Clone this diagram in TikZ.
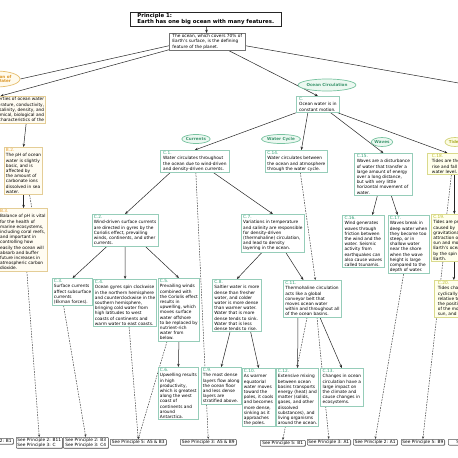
\documentclass[tikz,border=0pt]{standalone}
\usepackage{fontspec}
\setmainfont{DejaVu Sans}
\usetikzlibrary{shapes.geometric,arrows.meta,calc,backgrounds,shadows}
\definecolor{cBd}{RGB}{150,205,185}
\definecolor{cLab}{RGB}{55,160,120}
\definecolor{bBd}{RGB}{228,205,150}
\definecolor{bFill}{RGB}{255,252,242}
\definecolor{bLab}{RGB}{230,160,50}
\definecolor{tBd}{RGB}{218,218,140}
\definecolor{tFill}{RGB}{255,255,236}
\definecolor{tLab}{RGB}{185,185,40}
\definecolor{eBd}{RGB}{120,195,160}
\definecolor{eFill}{RGB}{236,248,241}
\definecolor{eTxt}{RGB}{60,150,110}
\definecolor{pBd}{RGB}{230,190,110}
\definecolor{pFill}{RGB}{255,250,236}
\definecolor{pTxt}{RGB}{220,150,40}
\definecolor{tiBd}{RGB}{210,210,120}
\definecolor{tiFill}{RGB}{252,252,226}
\definecolor{tiTxt}{RGB}{175,175,50}
\newcommand\clab[1]{\textcolor{cLab}{#1}}
\newcommand\blab[1]{\textcolor{bLab}{#1}}
\newcommand\tlab[1]{\textcolor{tLab}{#1}}
\begin{document}
\begin{tikzpicture}[x=1pt,y=-1pt,
  every node/.style={font=\fontsize{4.3}{5.2}\selectfont},
  box/.style={anchor=north west, align=left, inner xsep=1.6pt, inner ysep=1.2pt, line width=0.7pt},
  cbox/.style={box, draw=cBd, fill=white},
  bbx/.style={box, draw=bBd, fill=bFill},
  tbx/.style={box, draw=tBd, fill=tFill},
  tit/.style={box, draw=black!85, fill=white, line width=0.6pt, font=\fontsize{5.4}{6.2}\selectfont\bfseries,
    drop shadow={shadow xshift=0.8pt, shadow yshift=-0.8pt, fill=black!40, opacity=1}},
  obx/.style={box, draw=black!55, fill=white, line width=0.5pt,
    drop shadow={shadow xshift=0.7pt, shadow yshift=-0.7pt, fill=black!35, opacity=1}},
  seebox/.style={anchor=north west, align=left, draw=black!65, fill=white, rounded corners=0.8pt,
    line width=0.5pt, inner xsep=1.2pt, inner ysep=0.8pt,
    drop shadow={shadow xshift=0.6pt, shadow yshift=-0.6pt, fill=black!45, opacity=1}},
  ell/.style={ellipse, inner sep=0pt, line width=0.7pt, draw=eBd, fill=eFill, text=eTxt,
    font=\fontsize{4.1}{4.8}\selectfont\bfseries, align=center},
  ellp/.style={ell, draw=pBd, fill=pFill, text=pTxt},
  ellt/.style={ell, draw=tiBd, fill=tiFill, text=tiTxt},
  ln/.style={draw=black!85, line width=0.5pt},
  arr/.style={ln, -{Stealth[length=3.2pt,width=2.6pt]}},
  dsh/.style={draw=black!75, line width=0.5pt, dash pattern=on 1.6pt off 1.1pt},
  dsharr/.style={dsh, -{Stealth[length=2.6pt,width=2.2pt]}}
]
\useasboundingbox (0,0) rectangle (458,458);
\clip (0,0) rectangle (458,458);

% ---- top
\node[tit, minimum width=151pt] (title) at (130,12) {Principle 1:\\Earth has one big ocean with many features.};
\node[obx, minimum width=76pt] (ocean) at (169,33) {The ocean, which covers 70\% of\\Earth's surface, is the defining\\feature of the planet.};

% ---- link ellipses
\node[ellp, minimum width=48pt, minimum height=16pt] (prop) at (-4,79) {Proportion of\\Ocean Water};
\node[ell, minimum width=45pt, minimum height=12pt] (ocirc) at (327,85) {Ocean Circulation};
\node[ell, minimum width=25pt, minimum height=9pt] (curr) at (196,139) {Currents};
\node[ell, minimum width=28pt, minimum height=9pt] (wcyc) at (281,139) {Water Cycle};
\node[ell, minimum width=20pt, minimum height=9pt] (waves) at (382,142) {Waves};
\node[ellt, minimum width=20pt, minimum height=9pt] (tides) at (455,142) {Tides};

% ---- B column
\node[bbx, align=right, minimum width=66pt] (bb) at (-33,96) {\blab{B.1.} Properties of ocean water\\such as temperature, conductivity,\\salinity, density, and\\pH are chemical, biological and\\physical characteristics of the};
\node[bbx, minimum width=38pt] (B2) at (4,147) {\blab{B.2.}\\The pH of ocean\\water is slightly\\basic, and is\\affected by\\the amount of\\carbonate ions\\dissolved in sea\\water.};
\node[bbx, minimum width=49pt] (B3) at (-2,208) {\blab{B.3.}\\Balance of pH is vital\\for the health of\\marine ecosystems,\\including coral reefs,\\and important in\\controlling how\\easily the ocean will\\absorb and buffer\\future increases in\\atmospheric carbon\\dioxide.};

% ---- C column
\node[cbox, minimum width=43pt] (C) at (296,96) {\clab{C.}\\Ocean water is in\\constant motion.};
\node[cbox, minimum width=69pt] (C1) at (160,150) {\clab{C.1.}\\Water circulates throughout\\the ocean due to wind-driven\\and density-driven currents.};
\node[cbox, minimum width=62pt] (C14) at (265,150) {\clab{C.14.}\\Water circulates between\\the ocean and atmosphere\\through the water cycle.};
\node[cbox, minimum width=58pt] (C15) at (354,153) {\clab{C.15.}\\Waves are a disturbance\\of water that transfer a\\large amount of energy\\over a long distance,\\but with very little\\horizontal movement of\\water.};
\node[tbx, minimum width=40pt] (C18) at (427,153) {\tlab{C.18.}\\Tides are the\\rise and fall of\\water level.};
\node[cbox, minimum width=64pt] (C2) at (92,214) {\clab{C.2.}\\Wind-driven surface currents\\are directed in gyres by the\\Coriolis effect, prevailing\\winds, continents, and other\\currents.};
\node[cbox, minimum width=63pt] (C7) at (241,214) {\clab{C.7.}\\Variations in temperature\\and salinity are responsible\\for density-driven\\(thermohaline) circulation,\\and lead to density\\layering in the ocean.};
\node[cbox, minimum width=42pt] (C16) at (342,215) {\clab{C.16.}\\Wind generates\\waves through\\friction between\\the wind and the\\water. Seismic\\activity from\\earthquakes can\\also cause waves\\called tsunamis.};
\node[cbox, minimum width=40pt] (C17) at (388,215) {\clab{C.17.}\\Waves break in\\deep water when\\they become too\\steep, or in\\shallow water\\near the shore\\when the wave\\height is large\\compared to the\\depth of water.};
\node[tbx, minimum width=45pt] (C19) at (431,214) {\tlab{C.19.}\\Tides are primarily\\caused by\\gravitational\\attraction of the\\sun and moon on\\Earth's oceans and\\by the spin of\\Earth.};
\node[cbox, minimum width=39pt] (C3) at (52,278) {\clab{C.3.}\\Surface currents\\affect subsurface\\currents\\(Ekman forces).};
\node[cbox, minimum width=63pt] (C4) at (93,279) {\clab{C.4.}\\Ocean gyres spin clockwise\\in the northern hemisphere\\and counterclockwise in the\\southern hemisphere,\\bringing cold water from\\high latitudes to west\\coasts of continents and\\warm water to east coasts.};
\node[cbox, minimum width=41pt] (C5) at (158,278) {\clab{C.5.}\\Prevailing winds\\combined with\\the Coriolis effect\\results in\\upwelling, which\\moves surface\\water offshore\\to be replaced by\\nutrient-rich\\water from\\below.};
\node[cbox, minimum width=49pt] (C8) at (212,279) {\clab{C.8.}\\Saltier water is more\\dense than fresher\\water, and colder\\water is more dense\\than warmer water.\\Water that is more\\dense tends to sink.\\Water that is less\\dense tends to rise.};
\node[cbox, minimum width=58pt] (C11) at (283,280) {\clab{C.11.}\\Thermohaline circulation\\acts like a global\\conveyor belt that\\moves ocean water\\within and throughout all\\of the ocean basins.};
\node[tbx, minimum width=40pt] (C20) at (434,280) {\tlab{C.20.}\\Tides change\\cyclically\\relative to\\the position\\of the moon,\\sun, and Earth.};
\node[cbox, minimum width=40pt] (C6) at (158,367) {\clab{C.6.}\\Upwelling results\\in high\\productivity,\\which is greatest\\along the west\\coast of\\continents and\\around\\Antarctica.};
\node[cbox, minimum width=39pt] (C9) at (201,367) {\clab{C.9.}\\The most dense\\layers flow along\\the ocean floor\\and less dense\\layers are\\stratified above.};
\node[cbox, minimum width=32pt] (C10) at (242,368) {\clab{C.10.}\\As warmer\\equatorial\\water moves\\toward the\\poles, it cools\\and becomes\\more dense,\\sinking as it\\approaches\\the poles.};
\node[cbox, minimum width=42pt] (C12) at (276,368) {\clab{C.12.}\\Extensive mixing\\between ocean\\basins transports\\energy (heat) and\\matter (solids,\\gases, and other\\dissolved\\substances), and\\living organisms\\around the ocean.};
\node[cbox, minimum width=43pt] (C13) at (320,368) {\clab{C.13.}\\Changes in ocean\\circulation have a\\large impact on\\the climate and\\cause changes in\\ecosystems.};

% ---- see boxes
\node[seebox, minimum width=44pt] (sP2B1) at (-31,438) {See Principle 2: B1};
\node[seebox, minimum width=46pt] (sB11) at (16,437) {See Principle 2: B11\\See Principle 3: C};
\node[seebox, minimum width=45pt] (sB3C4) at (63,437) {See Principle 2: B3\\See Principle 3: C4};
\node[seebox, minimum width=56pt] (sA5B3) at (110,439) {See Principle 5: A5 \& B3};
\node[seebox, minimum width=56pt] (sA5B9) at (180,439) {See Principle 3: A5 \& B9};
\node[seebox, minimum width=45pt] (sP5B1) at (260,440) {See Principle 5: B1};
\node[seebox, minimum width=43pt] (sP3A1) at (307,439) {See Principle 3: A1};
\node[seebox, minimum width=44pt] (sP2A1) at (353,439) {See Principle 2: A1};
\node[seebox, minimum width=43pt] (sP5B9) at (401,439) {See Principle 5: B9};
\node[seebox, minimum width=44pt] (sMore) at (448,439) {See Principle};

\coordinate (offR) at (470,85);

\begin{scope}[on background layer]
\fill[white] (0,0) rectangle (458,458);
% top level
\draw[arr] (title) -- (ocean);
\draw[ln] ($(ocean.west)+(0,4)$) -- (prop.east);
\draw[arr] ($(ocean.west)+(0,8)$) -- ($(bb.north)+(-6,0)$);
\draw[ln] ($(ocean.east)+(0,4)$) -- (offR);
\draw[arr] ($(ocean.south east)+(-17,0)$) -- (C.north);
% from C
\draw[arr] (C.south west) -- (C1.north);
\draw[arr] ($(C.south)+(-10,0)$) -- ($(C14.north)+(5,0)$);
\draw[arr] ($(C.south east)+(-9,0)$) -- (C15.north);
\draw[arr] ($(C.south east)+(-2,0)$) -- (C18.north);
% currents
\draw[arr] ($(C1.south west)+(10,0)$) -- (C2.north);
\draw[arr] ($(C1.south east)+(-16,0)$) -- (C7.north);
\draw[dsharr] ($(C1.south)+(1,0)$) -- (sA5B9.north);
\draw[arr] ($(C2.south west)+(15,0)$) -- (C3.north);
\draw[arr] (C2.south) -- (C4.north);
\draw[arr] ($(C2.south east)+(-13,0)$) -- (C5.north);
\draw[dsharr] ($(C3.south)+(-9,0)$) -- (sB3C4.north);
\draw[dsharr] ($(C4.south)+(4,0)$) -- (sA5B3.north);
\draw[dsharr] ($(C5.south west)+(9,0)$) -- (sA5B3.north);
\draw[arr] (C5.south) -- (C6.north);
% density
\draw[arr] ($(C7.south west)+(21,0)$) -- (C8.north);
\draw[arr] ($(C7.south east)+(-19,0)$) -- ($(C11.north)+(-9,0)$);
\draw[arr] ($(C8.south west)+(18,0)$) -- (C9.north);
\draw[arr] ($(C8.south east)+(-11,0)$) -- (C10.north);
\draw[dsharr] ($(C14.south)+(4,0)$) -- ($(C11.north)+(3,0)$);
\draw[arr] ($(C11.south west)+(15,0)$) -- (C12.north);
\draw[arr] ($(C11.south west)+(37,0)$) -- (C13.north);
\draw[dsharr] ($(C11.south west)+(24,0)$) -- (sP5B1.north);
\draw[dsharr] ($(C11.south west)+(34,0)$) -- (sP3A1.north);
% waves
\draw[arr] ($(C15.south)+(-6,0)$) -- ($(C16.north)+(9,0)$);
\draw[arr] ($(C15.south)+(8,0)$) -- ($(C17.north)+(-11,0)$);
\draw[dsharr] ($(C17.south)+(-5,0)$) -- (sP2A1.north);
% tides
\draw[dsh] ($(C18.south)+(4,0)$) -- ($(C19.north)+(-7,0)$);
\draw[arr] ($(C18.south)+(7,0)$) -- ($(C19.north)+(0.5,0)$);
\draw[arr] (C19.south) -- (C20.north -| C19.south);
\draw[dsharr] ($(C19.south)+(-11,0)$) -- (sP5B9.north);
% B column
\draw[arr] ($(bb.south east)+(-20,0)$) -- (B2.north);
\draw[arr] (B2.south) -- (B2.south |- B3.north);
\draw[dsh] ($(B2.south)+(6,0)$) -- ($(B3.north)+(9,0)$);
\draw[dsharr] ($(B3.south)+(4,0)$) -- (sB11.north);
\end{scope}
\end{tikzpicture}
\end{document}
